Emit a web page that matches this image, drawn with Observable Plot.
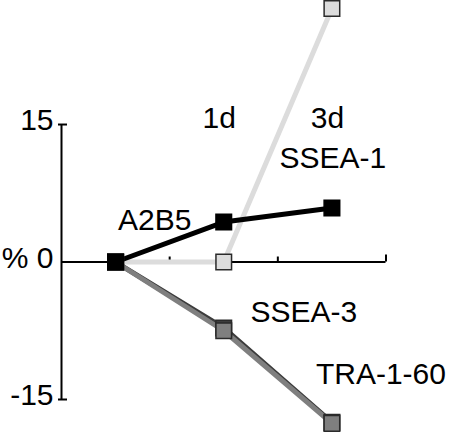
<!DOCTYPE html>
<html><head><meta charset="utf-8">
<script src="https://cdn.jsdelivr.net/npm/d3@7"></script>
<script src="https://cdn.jsdelivr.net/npm/@observablehq/plot@0.6"></script>
<style>html,body{margin:0;padding:0;background:#fff}svg{display:block}</style>
</head><body><div id="chart"></div>
<script>
// ---- data ----
const days = ["0d", "1d", "3d"];
const seriesNames = ["SSEA-1", "SSEA-3", "TRA-1-60", "A2B5"];
const ssea1 = [0, 0, 27.65];
const ssea3 = [0, -7.2, -17.5];
const tra160 = [0, -7.5, -17.6];
const a2b5 = [0, 4.36, 5.9];
const yTicks = [15, 0, -15];
const yTickLabels = ["15", "% 0", "-15"];

// ---- styling ----
const FONT = 30;
const colors = {"SSEA-1": "#dcdcdc", "SSEA-3": "#3c3c3c", "TRA-1-60": "#7f7f7f", "A2B5": "#000000"};
const markerStroke = {"SSEA-1": "#2a2a2a", "SSEA-3": "#2a2a2a", "TRA-1-60": "#2a2a2a", "A2B5": "#000000"};
// label placement: anchored to a point of the series, with pixel offsets
const labelLayout = {
  "SSEA-1": {at: 2, dx: 1, dy: 150},
  "SSEA-3": {at: 1, dx: 80, dy: -16},
  "TRA-1-60": {at: 2, dx: 49, dy: -49},
  "A2B5": {at: 1, dx: -69, dy: -2}
};

const values = {"SSEA-1": ssea1, "SSEA-3": ssea3, "TRA-1-60": tra160, "A2B5": a2b5};
const rows = [];
for (const s of seriesNames) values[s].forEach((v, i) => rows.push({series: s, i, day: days[i], v}));

const xRange = [61, 385.5];
const pxPerX = (xRange[1] - xRange[0]) / days.length;
const yDomain = [-18.6, 28.53];
const pxPerY = 432 / (yDomain[1] - yDomain[0]);
const boundaries = d3.range(1, days.length + 1).map(i => i - 0.5);

const labelMarks = seriesNames.map(s => {
  const L = labelLayout[s];
  return Plot.text([{series: s, i: L.at, v: values[s][L.at]}], {
    x: "i", y: "v", text: "series", dx: L.dx, dy: L.dy, fill: "#000", fontSize: FONT
  });
});

const chart = Plot.plot({
  width: 450, height: 432,
  marginTop: 0, marginRight: 0, marginBottom: 0, marginLeft: 0,
  x: {domain: [-0.5, days.length - 0.5], range: xRange, axis: null},
  y: {domain: yDomain, range: [432, 0], axis: null},
  color: {type: "identity"},
  style: {fontFamily: "'Liberation Sans', Arial, sans-serif", fontSize: FONT + "px", background: "#fff", overflow: "visible"},
  marks: [
    // y axis line
    Plot.ruleX([-0.5], {y1: yTicks[yTicks.length - 1], y2: yTicks[0], stroke: "#000", strokeWidth: 2}),
    // y ticks (15, -15)
    Plot.ruleY(yTicks.filter(t => t !== 0), {x1: -0.5 - 3 / pxPerX, x2: -0.5 + 6 / pxPerX, stroke: "#000", strokeWidth: 2}),
    // y tick labels
    Plot.text(yTicks, {x: -0.5, y: d => d, text: (d, i) => yTickLabels[i], textAnchor: "end", dx: -8, dy: -4, fill: "#000", fontSize: FONT}),
    // x axis line
    Plot.ruleY([0], {x1: -0.5, x2: days.length - 0.5, stroke: "#000", strokeWidth: 2}),
    // x ticks at day boundaries
    Plot.ruleX(boundaries, {y1: 0, y2: (d, i) => (i === boundaries.length - 1 ? 7 : 5) / pxPerY, stroke: "#000", strokeWidth: 2}),
    // x labels at top
    Plot.text(days.slice(1), {x: (d) => days.indexOf(d), frameAnchor: "top", dy: 106, dx: -4.5, text: d => d, fill: "#000", fontSize: FONT}),
    // lines
    Plot.line(rows, {x: "i", y: "v", z: "series", stroke: d => colors[d.series], strokeWidth: 5, strokeLinejoin: "round"}),
    // square markers
    Plot.dot(rows, {x: "i", y: "v", symbol: "square", r: 8.8, fill: d => colors[d.series], stroke: d => markerStroke[d.series], strokeWidth: 1.5}),
    // series labels
    ...labelMarks
  ]
});
document.getElementById("chart").append(chart);
</script>
</body></html>
